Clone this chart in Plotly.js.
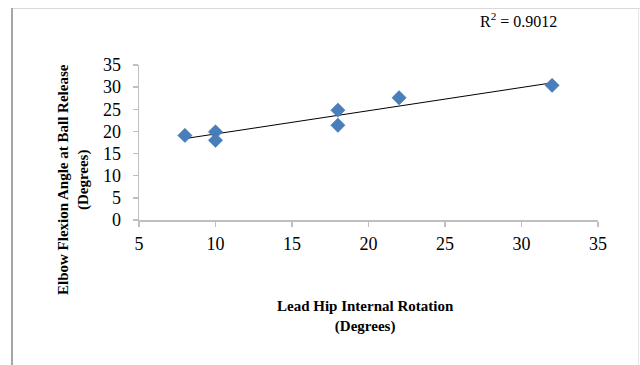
<!DOCTYPE html>
<html>
<head>
<meta charset="utf-8">
<script src="https://cdn.plot.ly/plotly-3.0.1.min.js"></script>
<style>
html,body{margin:0;padding:0;background:#fff;}
#wrap{position:relative;width:640px;height:365px;overflow:hidden;}
#chart{width:640px;height:365px;}
.bt{position:absolute;left:12px;top:8px;width:628px;height:0;border-top:1.5px solid #d9d9d9;}
.bl{position:absolute;left:11px;top:8px;width:0;height:360px;border-left:2px solid #a6a6a6;}
.br{position:absolute;left:638px;top:8px;width:0;height:360px;border-left:1px solid #e6e6e6;}
</style>
</head>
<body>
<div id="wrap">
<div id="chart"></div>
<div class="bt"></div><div class="bl"></div><div class="br"></div>
</div>
<script>
// Data
const hipRotation = [8, 10, 10, 18, 18, 22, 32];
const elbowFlexion = [19.1, 19.9, 18.0, 24.8, 21.4, 27.6, 30.4];
const xTicks = [5, 10, 15, 20, 25, 30, 35];
const yTicks = [0, 5, 10, 15, 20, 25, 30, 35];
const r2Label = "R<sup>2</sup> = 0.9012";
const xTitle = "Lead Hip Internal Rotation<br>(Degrees)";
const yTitle = "Elbow Flexion Angle at Ball Release<br>(Degrees)";

// Linear least squares trendline
const n = hipRotation.length;
const mx = hipRotation.reduce((a,b)=>a+b,0)/n;
const my = elbowFlexion.reduce((a,b)=>a+b,0)/n;
let sxy=0, sxx=0;
for (let i=0;i<n;i++){ sxy+=(hipRotation[i]-mx)*(elbowFlexion[i]-my); sxx+=(hipRotation[i]-mx)**2; }
const slope = sxy/sxx, icpt = my - slope*mx;
const xmin = Math.min(...hipRotation), xmax = Math.max(...hipRotation);
const trendX = [xmin, xmax];
const trendY = trendX.map(x => icpt + slope*x);

const serif = "Liberation Serif, Times New Roman, serif";

const data = [
  {x: trendX, y: trendY, mode:'lines', type:'scatter', line:{color:'#000', width:1}, hoverinfo:'skip', showlegend:false},
  {x: hipRotation, y: elbowFlexion, mode:'markers', type:'scatter',
   marker:{symbol:'diamond', size:11, color:'#4a7ebb', line:{color:'#3f6fa8', width:0.5}}, showlegend:false}
];

const axisCommon = {
  showgrid:false, zeroline:false, showline:true, linecolor:'#bfbfbf', linewidth:1.5,
  ticks:'outside', ticklen:5, tickcolor:'#bfbfbf', tickwidth:1.5,
  tickfont:{family:serif, size:18, color:'#000'}, tickmode:'array'
};

const layout = {
  width:640, height:365,
  margin:{l:139, r:42, t:65, b:145, pad:0},
  paper_bgcolor:'#fff', plot_bgcolor:'#fff',
  xaxis: Object.assign({}, axisCommon, {range:[5,35], tickvals:xTicks, ticktext:xTicks.map(String), ticklabelstandoff:2}),
  yaxis: Object.assign({}, axisCommon, {range:[0,35], tickvals:yTicks, ticktext:yTicks.map(String), ticklabelstandoff:8}),
  annotations:[
    {xref:'paper', yref:'paper', x:(518-139)/459, y:(220-20)/155, text:r2Label, showarrow:false,
     font:{family:serif, size:16, color:'#000'}, xanchor:'center', yanchor:'middle'},
    {xref:'paper', yref:'paper', x:(365-139)/459, y:(220-316)/155, text:xTitle, showarrow:false,
     font:{family:serif, size:15, color:'#000'}, xanchor:'center', yanchor:'middle'},
    {xref:'paper', yref:'paper', x:(73-139)/459, y:(220-180)/155, text:yTitle, showarrow:false, textangle:-90,
     font:{family:serif, size:15, color:'#000'}, xanchor:'center', yanchor:'middle'}
  ]
};
// make axis titles bold
layout.annotations[1].text = "<b>" + xTitle.replace("<br>", "</b><br><b>") + "</b>";
layout.annotations[2].text = "<b>" + yTitle.replace("<br>", "</b><br><b>") + "</b>";

Plotly.newPlot('chart', data, layout, {displayModeBar:false, staticPlot:true});
</script>
</body>
</html>
